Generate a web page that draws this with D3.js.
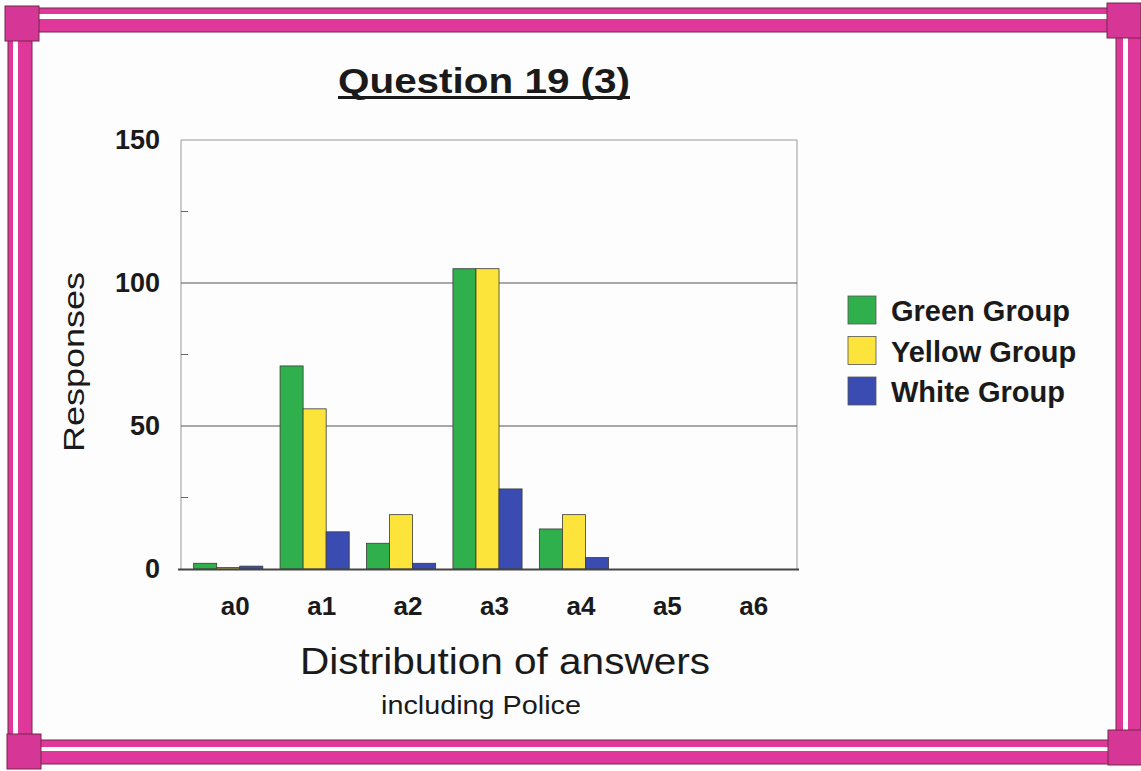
<!DOCTYPE html>
<html>
<head>
<meta charset="utf-8">
<script src="https://cdn.jsdelivr.net/npm/d3@7"></script>
<style>
  body { margin: 0; background: #fff; }
  svg { display: block; font-family: 'Liberation Sans', Arial, sans-serif; }
</style>
</head>
<body>
<svg width="1141" height="771"></svg>
<script>
const categories = ['a0', 'a1', 'a2', 'a3', 'a4', 'a5', 'a6']
const groups = ['Green Group', 'Yellow Group', 'White Group']
const greenValues = [2, 71, 9, 105, 14, 0, 0]
const yellowValues = [0.5, 56, 19, 105, 19, 0, 0]
const whiteValues = [1, 13, 2, 28, 4, 0, 0]
const yTicks = [0, 50, 100, 150]
const minorTicks = [25, 75, 125]

const colors = {
  'Green Group': '#2fb04c',
  'Yellow Group': '#fde43a',
  'White Group': '#3a4cb2'
}

let svg = d3.select('svg')

// background
svg.append('rect').attr('width', 1141).attr('height', 771).attr('fill', '#fdfdfd')

// pink frame
let frame = svg.append('g')
let pink = '#e0379b'
let edge = '#6e2a4c'
let bands = [
  {x: 36, y: 8, w: 1074, h: 24, sx: 36, sy: 14, sw: 1074, sh: 5},
  {x: 38, y: 740, w: 1072, h: 24, sx: 38, sy: 747, sw: 1072, sh: 4},
  {x: 8, y: 40, w: 24, h: 695, sx: 13, sy: 40, sw: 5, sh: 695},
  {x: 1116, y: 36, w: 25, h: 695, sx: 1123, sy: 36, sw: 5, sh: 695}
]
bands.forEach(function (b) {
  frame.append('rect')
    .attr('x', b.x).attr('y', b.y).attr('width', b.w).attr('height', b.h)
    .attr('fill', pink).attr('stroke', edge).attr('stroke-width', 1)
  frame.append('rect')
    .attr('x', b.sx).attr('y', b.sy).attr('width', b.sw).attr('height', b.sh)
    .attr('fill', '#fff')
})
let corners = [[5, 6], [1107, 3], [7, 734], [1108, 730]]
corners.forEach(function (c) {
  frame.append('rect')
    .attr('x', c[0]).attr('y', c[1]).attr('width', 34).attr('height', 35)
    .attr('fill', '#d63696').attr('stroke', edge).attr('stroke-width', 1)
})

// title
svg.append('text')
  .attr('x', 484).attr('y', 93)
  .attr('text-anchor', 'middle')
  .attr('font-size', 35).attr('font-weight', 'bold').attr('fill', '#1a1a1a')
  .attr('textLength', 292).attr('lengthAdjust', 'spacingAndGlyphs')
  .text('Question 19 (3)')
svg.append('rect')
  .attr('x', 338).attr('y', 96).attr('width', 292).attr('height', 3)
  .attr('fill', '#1a1a1a')

// plot area
let plotLeft = 181, plotRight = 797, plotTop = 140, plotBottom = 569

let y = d3.scaleLinear().domain([0, 150]).range([plotBottom, plotTop])
let x0 = d3.scaleBand().domain(categories).range([185, 790]).paddingInner(0.2).paddingOuter(0.1)
let x1 = d3.scaleBand().domain(groups).range([0, x0.bandwidth()])

let plot = svg.append('g')

// frame lines
plot.append('path')
  .attr('d', 'M' + plotLeft + ',' + plotBottom + 'V' + plotTop + 'H' + plotRight + 'V' + plotBottom)
  .attr('fill', 'none').attr('stroke', '#999').attr('stroke-width', 1)

// grid lines
plot.selectAll('.grid')
  .data(yTicks.filter(d => d > 0 && d < 150))
  .enter().append('line')
  .attr('x1', plotLeft).attr('x2', plotRight)
  .attr('y1', d => y(d)).attr('y2', d => y(d))
  .attr('stroke', '#555').attr('stroke-width', 1)

// minor ticks
plot.selectAll('.minor')
  .data(minorTicks)
  .enter().append('line')
  .attr('x1', plotLeft).attr('x2', plotLeft + 7)
  .attr('y1', d => y(d)).attr('y2', d => y(d))
  .attr('stroke', '#666').attr('stroke-width', 1)

// y tick labels
plot.selectAll('.ylab')
  .data(yTicks)
  .enter().append('text')
  .attr('x', 160).attr('y', d => y(d) + 9)
  .attr('text-anchor', 'end')
  .attr('font-size', 27).attr('font-weight', 'bold').attr('fill', '#1a1a1a')
  .text(d => d)

// bars
let series = [greenValues, yellowValues, whiteValues]
let rows = []
categories.forEach(function (c, i) {
  groups.forEach(function (g, j) {
    rows.push({cat: c, group: g, value: series[j][i]})
  })
})

plot.selectAll('.bar')
  .data(rows.filter(d => d.value > 0))
  .enter().append('rect')
  .attr('x', d => x0(d.cat) + x1(d.group))
  .attr('y', d => y(d.value))
  .attr('width', x1.bandwidth())
  .attr('height', d => plotBottom - y(d.value))
  .attr('fill', d => colors[d.group])
  .attr('stroke', '#3a3a3a').attr('stroke-width', 0.8)

// x axis line
plot.append('line')
  .attr('x1', plotLeft - 3).attr('x2', plotRight + 2)
  .attr('y1', plotBottom + 0.5).attr('y2', plotBottom + 0.5)
  .attr('stroke', '#444').attr('stroke-width', 2)

// x tick labels
plot.selectAll('.xlab')
  .data(categories)
  .enter().append('text')
  .attr('x', d => x0(d) + x0.bandwidth() / 2 + 7)
  .attr('y', 615)
  .attr('text-anchor', 'middle')
  .attr('font-size', 26).attr('font-weight', 'bold').attr('fill', '#1a1a1a')
  .text(d => d)

// axis titles
svg.append('text')
  .attr('transform', 'translate(84,362) rotate(-90)')
  .attr('text-anchor', 'middle')
  .attr('font-size', 29).attr('fill', '#1a1a1a')
  .attr('textLength', 180).attr('lengthAdjust', 'spacingAndGlyphs')
  .text('Responses')

svg.append('text')
  .attr('x', 505).attr('y', 674)
  .attr('text-anchor', 'middle')
  .attr('font-size', 36).attr('fill', '#1a1a1a')
  .attr('textLength', 410).attr('lengthAdjust', 'spacingAndGlyphs')
  .text('Distribution of answers')

svg.append('text')
  .attr('x', 481).attr('y', 714)
  .attr('text-anchor', 'middle')
  .attr('font-size', 25).attr('fill', '#1a1a1a')
  .attr('textLength', 200).attr('lengthAdjust', 'spacingAndGlyphs')
  .text('including Police')

// legend
let legend = svg.append('g').attr('transform', 'translate(848,296)')
let item = legend.selectAll('.item')
  .data(groups)
  .enter().append('g')
  .attr('transform', (d, i) => 'translate(0,' + (i * 40.5) + ')')
item.append('rect')
  .attr('width', 28).attr('height', 28)
  .attr('fill', d => colors[d])
  .attr('stroke', '#555').attr('stroke-width', 0.8)
item.append('text')
  .attr('x', 43).attr('y', 25)
  .attr('font-size', 29).attr('font-weight', 'bold').attr('fill', '#1a1a1a')
  .text(d => d)
</script>
</body>
</html>
